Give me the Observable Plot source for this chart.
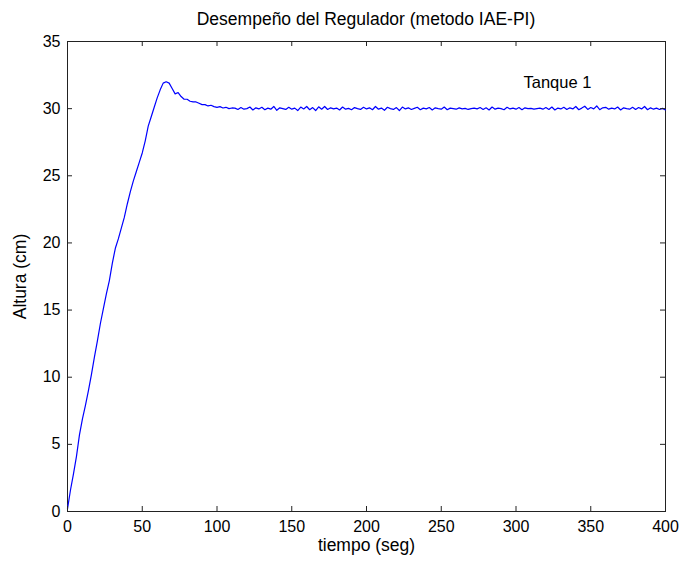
<!DOCTYPE html>
<html>
<head>
<meta charset="utf-8">
<script src="https://cdn.jsdelivr.net/npm/d3@7"></script>
<script src="https://cdn.jsdelivr.net/npm/@observablehq/plot@0.6"></script>
<style>
  body { margin: 0; background: #fff; font-family: "Liberation Sans", Arial, sans-serif; }
  #wrap { width: 680px; height: 562px; position: relative; }
  #title { position: absolute; left: 67px; width: 598px; top: 9px; text-align: center; font-size: 17.5px; color: #000; }
  #chart { position: absolute; left: 0; top: 30px; }
</style>
</head>
<body>
<div id="wrap">
  <div id="title"></div>
  <div id="chart"></div>
</div>
<script>
const titulo = "Desempeño del Regulador (metodo IAE-PI)";
const etiquetaX = "tiempo (seg)";
const etiquetaY = "Altura (cm)";
const anotacion = "Tanque 1";
const anotacionPos = [305, 31.9];
const ticksX = [0, 50, 100, 150, 200, 250, 300, 350, 400];
const ticksY = [0, 5, 10, 15, 20, 25, 30, 35];

// time samples (seg), every 2 s
const tiempo = [
  0,2,4,6,8,10,12,14,16,18,20,22,24,26,28,30,32,34,36,38,
  40,42,44,46,48,50,52,54,56,58,60,62,64,66,68,70,72,74,76,78,
  80,82,84,86,88,90,92,94,96,98,100,102,104,106,108,110,112,114,116,118,
  120,122,124,126,128,130,132,134,136,138,140,142,144,146,148,150,152,154,156,158,
  160,162,164,166,168,170,172,174,176,178,180,182,184,186,188,190,192,194,196,198,
  200,202,204,206,208,210,212,214,216,218,220,222,224,226,228,230,232,234,236,238,
  240,242,244,246,248,250,252,254,256,258,260,262,264,266,268,270,272,274,276,278,
  280,282,284,286,288,290,292,294,296,298,300,302,304,306,308,310,312,314,316,318,
  320,322,324,326,328,330,332,334,336,338,340,342,344,346,348,350,352,354,356,358,
  360,362,364,366,368,370,372,374,376,378,380,382,384,386,388,390,392,394,396,398,
  400
];
// tank 1 level (cm)
const altura = [
  0.2,1.6,2.8,4.1,5.7,6.9,7.9,9.0,10.2,11.5,12.7,14.0,15.1,16.2,17.2,18.5,19.6,20.3,21.1,21.9,
  22.9,23.8,24.6,25.3,26.0,26.7,27.6,28.7,29.4,30.1,30.8,31.4,31.9,32.0,31.9,31.5,31.1,31.2,30.9,30.7,
  30.7,30.55,30.5,30.5,30.4,30.3,30.3,30.2,30.25,30.15,30.1,30.15,30.05,30.1,30.0,30.05,30.04,29.94,30.08,29.96,
  30.0,30.12,29.9,30.06,29.98,30.1,29.92,30.04,29.96,30.16,29.88,30.06,30.0,29.94,30.1,29.96,30.04,29.86,30.12,29.98,
  30.16,29.92,30.08,29.86,30.14,29.96,30.16,29.94,30.06,29.98,30.04,29.9,30.12,29.96,30.02,29.92,30.08,30.0,29.94,30.1,
  29.98,30.06,29.92,30.16,29.96,30.04,29.88,30.1,30.0,29.94,30.08,29.86,30.12,29.98,30.06,29.94,30.02,30.1,29.92,30.04,
  29.98,30.08,29.9,30.06,30.0,29.96,30.12,29.92,30.04,30.0,29.96,30.06,29.98,30.02,29.94,30.0,30.04,29.98,30.08,29.94,
  30.06,29.9,30.12,29.96,30.04,30.0,29.92,30.1,29.98,30.04,29.96,30.08,29.92,30.06,30.0,30.02,29.96,30.0,30.04,29.96,
  30.08,29.94,30.12,29.9,30.04,29.98,30.1,29.94,30.06,29.98,30.16,29.92,30.04,30.18,29.94,30.08,29.98,30.2,29.92,30.06,
  30.1,29.96,30.04,29.98,30.12,29.9,30.06,30.0,29.96,30.1,29.94,30.08,29.98,30.16,29.92,30.06,29.96,30.04,29.94,30.02,
  29.9
];

const datos = tiempo.map((t, i) => ({t, h: altura[i]}));

const chart = Plot.plot({
  width: 680,
  height: 532,
  marginTop: 11,
  marginBottom: 51,
  marginLeft: 67,
  marginRight: 15,
  style: {fontFamily: "'Liberation Sans', Arial, sans-serif", fontSize: "16px", color: "#000", background: "#fff"},
  x: {domain: [0, 400]},
  y: {domain: [0, 35]},
  marks: [
    Plot.frame({stroke: "#222", strokeWidth: 1}),
    Plot.line(datos, {x: "t", y: "h", stroke: "#0000ff", strokeWidth: 1.2}),
    Plot.axisX({ticks: ticksX, tickSize: 0, tickPadding: 9, label: null}),
    Plot.axisY({ticks: ticksY, tickSize: 0, tickPadding: 7, label: null}),
    Plot.tickX(ticksX, {x: d => d, insetTop: 465, stroke: "#222"}),
    Plot.tickX(ticksX, {x: d => d, insetBottom: 465, stroke: "#222"}),
    Plot.tickY(ticksY, {y: d => d, insetLeft: 593, stroke: "#222"}),
    Plot.tickY(ticksY, {y: d => d, insetRight: 593, stroke: "#222"}),
    Plot.text([anotacion], {x: anotacionPos[0], y: anotacionPos[1], textAnchor: "start", fill: "#000", fontSize: 16.5}),
    Plot.text([etiquetaX], {frameAnchor: "bottom", textAnchor: "middle", dy: 39, fill: "#000", fontSize: 17.5}),
    Plot.text([etiquetaY], {frameAnchor: "left", textAnchor: "middle", lineAnchor: "middle", rotate: -90, dx: -47, fill: "#000", fontSize: 17.5})
  ]
});
document.getElementById("chart").appendChild(chart);
document.getElementById("title").textContent = titulo;
</script>
</body>
</html>
